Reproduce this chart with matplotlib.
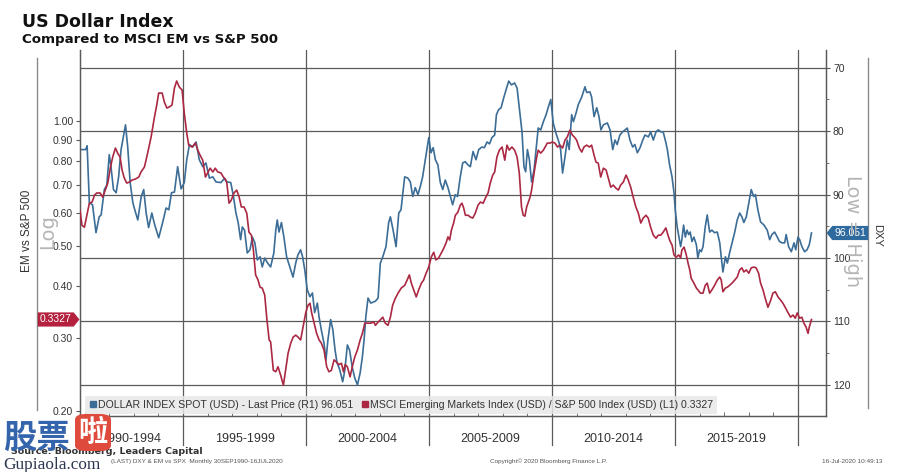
import matplotlib
matplotlib.use("Agg")
import matplotlib.pyplot as plt
from matplotlib.lines import Line2D
from matplotlib.path import Path
from matplotlib.patches import FancyBboxPatch
from matplotlib.transforms import blended_transform_factory
from matplotlib.ticker import FixedLocator, NullLocator, FormatStrFormatter

plt.rcParams['font.family'] = ['Liberation Sans', 'DejaVu Sans']

# DXY, monthly-ish readings (decimal year, index level)
dxy_dates = [1990.81, 1991.04, 1991.10, 1991.19, 1991.32, 1991.46, 1991.59, 1991.67, 1991.80, 1991.90,
             1992.00, 1992.07, 1992.17, 1992.28, 1992.38, 1992.48, 1992.66, 1992.75, 1992.85, 1992.96,
             1993.06, 1993.16, 1993.30, 1993.40, 1993.50, 1993.60, 1993.73, 1993.85, 1994.01, 1994.17,
             1994.31, 1994.42, 1994.53, 1994.65, 1994.78, 1994.92, 1995.05, 1995.15, 1995.26, 1995.39,
             1995.53, 1995.66, 1995.80, 1995.93, 1996.07, 1996.21, 1996.34, 1996.54, 1996.67, 1996.80,
             1996.94, 1997.05, 1997.15, 1997.24, 1997.34, 1997.41, 1997.50, 1997.61, 1997.72, 1997.82,
             1997.92, 1998.02, 1998.13, 1998.22, 1998.32, 1998.44, 1998.56, 1998.69, 1998.77, 1998.83,
             1998.90, 1999.00, 1999.10, 1999.21, 1999.35, 1999.47, 1999.58, 1999.67, 1999.78, 1999.86,
             1999.95, 2000.05, 2000.16, 2000.26, 2000.35, 2000.46, 2000.53, 2000.62, 2000.73, 2000.81,
             2000.89, 2001.00, 2001.09, 2001.18, 2001.26, 2001.37, 2001.49, 2001.58, 2001.68, 2001.77,
             2001.88, 2001.98, 2002.09, 2002.20, 2002.29, 2002.36, 2002.43, 2002.52, 2002.63, 2002.76,
             2002.82, 2002.93, 2003.02, 2003.12, 2003.25, 2003.36, 2003.43, 2003.54, 2003.66, 2003.77,
             2003.86, 2004.01, 2004.14, 2004.24, 2004.34, 2004.44, 2004.55, 2004.64, 2004.74, 2004.85,
             2004.99, 2005.08, 2005.17, 2005.26, 2005.36, 2005.46, 2005.56, 2005.66, 2005.77, 2005.87,
             2005.96, 2006.07, 2006.16, 2006.27, 2006.37, 2006.47, 2006.58, 2006.68, 2006.79, 2006.91,
             2007.02, 2007.15, 2007.25, 2007.36, 2007.46, 2007.56, 2007.67, 2007.74, 2007.83, 2007.93,
             2008.04, 2008.13, 2008.24, 2008.35, 2008.48, 2008.58, 2008.67, 2008.78, 2008.86, 2008.93,
             2009.00, 2009.08, 2009.17, 2009.27, 2009.38, 2009.44, 2009.54, 2009.65, 2009.76, 2009.85,
             2009.95, 2010.05, 2010.16, 2010.28, 2010.35, 2010.43, 2010.53, 2010.62, 2010.70, 2010.80,
             2010.87, 2010.98, 2011.07, 2011.21, 2011.34, 2011.41, 2011.54, 2011.61, 2011.71, 2011.82,
             2011.91, 2011.99, 2012.09, 2012.25, 2012.36, 2012.47, 2012.56, 2012.65, 2012.76, 2012.87,
             2012.97, 2013.06, 2013.17, 2013.28, 2013.37, 2013.47, 2013.58, 2013.69, 2013.78, 2013.92,
             2014.01, 2014.12, 2014.23, 2014.32, 2014.42, 2014.52, 2014.63, 2014.69, 2014.78, 2014.88,
             2014.96, 2015.01, 2015.09, 2015.16, 2015.23, 2015.28, 2015.35, 2015.42, 2015.49, 2015.56,
             2015.62, 2015.69, 2015.77, 2015.87, 2015.93, 2016.00, 2016.07, 2016.14, 2016.23, 2016.31,
             2016.41, 2016.50, 2016.61, 2016.72, 2016.82, 2016.88, 2016.95, 2017.05, 2017.13, 2017.22,
             2017.32, 2017.43, 2017.53, 2017.63, 2017.72, 2017.80, 2017.90, 2018.00, 2018.10, 2018.20,
             2018.27, 2018.37, 2018.48, 2018.62, 2018.75, 2018.85, 2018.94, 2019.05, 2019.16, 2019.25,
             2019.35, 2019.46, 2019.52, 2019.62, 2019.73, 2019.84, 2019.91, 2020.00, 2020.07, 2020.16,
             2020.27, 2020.37, 2020.46, 2020.55]
dxy_vals = [82.9, 82.9, 82.3, 91.3, 91.6, 96.0, 93.5, 93.2, 89.2, 88.5,
            83.7, 85.6, 89.2, 89.7, 87.2, 82.9, 79.0, 82.5, 88.1, 91.3,
            92.7, 94.0, 90.3, 89.2, 92.9, 95.2, 92.9, 94.8, 96.8, 94.4,
            92.1, 92.4, 89.7, 89.6, 85.6, 89.1, 88.1, 84.5, 82.1, 82.5,
            81.7, 84.5, 85.6, 85.0, 87.4, 87.2, 88.0, 88.1, 87.5, 88.0,
            88.1, 90.3, 92.9, 94.4, 97.1, 95.1, 95.6, 99.2, 98.7, 96.7,
            97.6, 100.3, 99.8, 101.4, 100.0, 100.8, 101.4, 99.2, 95.6, 94.0,
            95.9, 94.4, 96.7, 99.8, 101.5, 103.0, 100.8, 99.5, 98.7, 99.8,
            101.9, 105.0, 106.1, 105.5, 108.6, 107.1, 109.3, 111.3, 113.4, 116.1,
            112.9, 109.7, 111.3, 114.5, 116.5, 117.6, 119.5, 117.6, 113.7, 114.5,
            117.2, 118.9, 120.0, 118.1, 115.6, 112.9, 109.3, 106.3, 107.1, 106.9,
            106.8, 106.3, 100.8, 99.8, 98.2, 94.4, 93.5, 95.6, 98.2, 92.9,
            92.4, 87.2, 87.4, 88.0, 90.3, 88.9, 90.0, 88.8, 87.2, 84.5,
            81.0, 83.4, 82.6, 84.5, 85.3, 88.1, 89.2, 87.7, 88.9, 90.3,
            91.6, 90.0, 90.3, 87.2, 85.0, 84.8, 85.3, 85.6, 83.2, 84.5,
            82.9, 82.5, 82.6, 81.7, 82.0, 81.0, 80.6, 77.4, 76.6, 76.3,
            74.7, 73.5, 72.1, 72.7, 72.4, 73.2, 76.3, 80.1, 85.6, 86.4,
            82.9, 84.5, 88.0, 86.1, 81.8, 79.5, 79.8, 78.5, 77.4, 76.2,
            75.0, 78.7, 80.3, 81.7, 82.9, 86.6, 84.0, 81.4, 82.9, 77.4,
            78.5, 77.1, 75.8, 74.6, 73.0, 73.9, 73.8, 74.6, 77.7, 76.3,
            77.7, 79.8, 79.0, 78.7, 79.8, 82.9, 81.4, 82.1, 80.6, 80.1,
            79.8, 79.5, 81.4, 82.5, 82.1, 83.4, 82.6, 81.4, 80.6, 80.9,
            80.1, 81.4, 80.1, 79.8, 80.1, 80.1, 81.8, 82.9, 85.3, 87.2,
            89.7, 92.4, 95.1, 96.7, 98.2, 97.1, 94.8, 96.7, 95.6, 96.3,
            95.9, 97.4, 96.7, 97.9, 100.0, 98.7, 99.0, 98.2, 95.1, 93.2,
            95.9, 95.6, 96.0, 95.9, 97.6, 99.8, 102.2, 99.8, 100.8, 99.2,
            97.6, 95.9, 94.0, 92.9, 93.5, 94.4, 93.5, 91.3, 89.2, 90.3,
            90.0, 92.4, 94.3, 94.8, 95.6, 97.1, 96.3, 95.9, 96.7, 97.4,
            97.6, 97.6, 96.3, 98.2, 99.0, 97.6, 98.7, 96.7, 97.1, 98.2,
            99.0, 98.7, 97.9, 96.051]

# MSCI EM / S&P 500 ratio
em_dates = [1990.81, 1990.89, 1990.99, 1991.08, 1991.19, 1991.30, 1991.40, 1991.49, 1991.63, 1991.73,
            1991.84, 1991.94, 1992.05, 1992.14, 1992.25, 1992.34, 1992.44, 1992.52, 1992.61, 1992.71,
            1992.82, 1992.93, 1993.06, 1993.20, 1993.29, 1993.43, 1993.56, 1993.70, 1993.83, 1993.93,
            1994.01, 1994.15, 1994.24, 1994.34, 1994.44, 1994.55, 1994.65, 1994.74, 1994.85, 1994.96,
            1995.05, 1995.15, 1995.23, 1995.37, 1995.50, 1995.60, 1995.69, 1995.80, 1995.91, 1996.00,
            1996.10, 1996.21, 1996.31, 1996.41, 1996.54, 1996.64, 1996.72, 1996.78, 1996.87, 1996.96,
            1997.07, 1997.18, 1997.28, 1997.37, 1997.48, 1997.59, 1997.68, 1997.78, 1997.86, 1997.95,
            1998.05, 1998.13, 1998.22, 1998.32, 1998.40, 1998.50, 1998.56, 1998.67, 1998.77, 1998.86,
            1998.97, 1999.08, 1999.17, 1999.27, 1999.38, 1999.48, 1999.58, 1999.67, 1999.78, 1999.88,
            1999.99, 2000.08, 2000.16, 2000.23, 2000.33, 2000.43, 2000.53, 2000.62, 2000.73, 2000.84,
            2000.93, 2001.03, 2001.14, 2001.23, 2001.34, 2001.44, 2001.52, 2001.59, 2001.68, 2001.79,
            2001.88, 2001.98, 2002.09, 2002.20, 2002.29, 2002.39, 2002.49, 2002.63, 2002.76, 2002.82,
            2002.93, 2003.02, 2003.12, 2003.22, 2003.33, 2003.43, 2003.52, 2003.63, 2003.74, 2003.87,
            2004.01, 2004.11, 2004.20, 2004.28, 2004.38, 2004.48, 2004.58, 2004.69, 2004.78, 2004.88,
            2004.99, 2005.09, 2005.19, 2005.28, 2005.39, 2005.50, 2005.60, 2005.69, 2005.77, 2005.84,
            2005.91, 2006.00, 2006.07, 2006.17, 2006.27, 2006.34, 2006.41, 2006.48, 2006.59, 2006.68,
            2006.78, 2006.88, 2006.99, 2007.09, 2007.20, 2007.29, 2007.40, 2007.49, 2007.59, 2007.67,
            2007.76, 2007.86, 2007.97, 2008.08, 2008.17, 2008.26, 2008.37, 2008.48, 2008.58, 2008.67,
            2008.76, 2008.83, 2008.90, 2008.97, 2009.04, 2009.11, 2009.17, 2009.24, 2009.31, 2009.38,
            2009.44, 2009.54, 2009.65, 2009.72, 2009.81, 2009.92, 2010.01, 2010.12, 2010.22, 2010.33,
            2010.43, 2010.53, 2010.62, 2010.73, 2010.83, 2010.91, 2011.00, 2011.11, 2011.21, 2011.30,
            2011.41, 2011.52, 2011.61, 2011.71, 2011.79, 2011.88, 2011.98, 2012.09, 2012.20, 2012.29,
            2012.39, 2012.49, 2012.60, 2012.70, 2012.79, 2012.90, 2013.01, 2013.10, 2013.20, 2013.30,
            2013.41, 2013.51, 2013.61, 2013.71, 2013.82, 2013.91, 2014.01, 2014.12, 2014.23, 2014.32,
            2014.42, 2014.52, 2014.63, 2014.72, 2014.79, 2014.88, 2014.96, 2015.05, 2015.15, 2015.23,
            2015.28, 2015.37, 2015.46, 2015.53, 2015.60, 2015.66, 2015.77, 2015.87, 2015.93, 2016.04,
            2016.14, 2016.23, 2016.31, 2016.41, 2016.50, 2016.61, 2016.72, 2016.82, 2016.88, 2016.95,
            2017.05, 2017.13, 2017.22, 2017.32, 2017.43, 2017.53, 2017.63, 2017.72, 2017.80, 2017.90,
            2018.00, 2018.10, 2018.21, 2018.30, 2018.40, 2018.48, 2018.58, 2018.67, 2018.78, 2018.89,
            2018.98, 2019.08, 2019.19, 2019.30, 2019.39, 2019.48, 2019.59, 2019.70, 2019.80, 2019.89,
            2019.97, 2020.07, 2020.16, 2020.24, 2020.33, 2020.41, 2020.46, 2020.55]
em_vals = [0.610, 0.561, 0.555, 0.590, 0.634, 0.638, 0.663, 0.671, 0.671, 0.656,
           0.682, 0.709, 0.775, 0.819, 0.861, 0.837, 0.819, 0.762, 0.729, 0.709,
           0.713, 0.721, 0.725, 0.733, 0.754, 0.775, 0.837, 0.915, 1.017, 1.093,
           1.168, 1.168, 1.111, 1.075, 1.081, 1.093, 1.201, 1.249, 1.207, 1.188,
           1.045, 0.935, 0.875, 0.866, 0.885, 0.851, 0.828, 0.805, 0.733, 0.750,
           0.770, 0.754, 0.770, 0.754, 0.750, 0.733, 0.725, 0.709, 0.634, 0.645,
           0.671, 0.682, 0.656, 0.621, 0.621, 0.600, 0.540, 0.531, 0.489, 0.426,
           0.414, 0.398, 0.396, 0.381, 0.337, 0.297, 0.294, 0.251, 0.249, 0.256,
           0.244, 0.231, 0.251, 0.276, 0.292, 0.302, 0.305, 0.302, 0.297, 0.319,
           0.346, 0.360, 0.364, 0.345, 0.326, 0.308, 0.297, 0.292, 0.281, 0.256,
           0.249, 0.251, 0.266, 0.263, 0.259, 0.261, 0.249, 0.259, 0.256, 0.242,
           0.256, 0.270, 0.281, 0.297, 0.308, 0.326, 0.326, 0.326, 0.328, 0.322,
           0.328, 0.332, 0.337, 0.326, 0.322, 0.337, 0.360, 0.374, 0.385, 0.396,
           0.402, 0.414, 0.426, 0.407, 0.392, 0.377, 0.392, 0.407, 0.414, 0.430,
           0.445, 0.470, 0.483, 0.463, 0.468, 0.481, 0.494, 0.508, 0.526, 0.517,
           0.546, 0.568, 0.593, 0.603, 0.627, 0.634, 0.617, 0.593, 0.593, 0.587,
           0.584, 0.600, 0.627, 0.638, 0.634, 0.652, 0.671, 0.709, 0.741, 0.754,
           0.819, 0.851, 0.866, 0.805, 0.875, 0.851, 0.866, 0.851, 0.819, 0.750,
           0.621, 0.593, 0.590, 0.621, 0.638, 0.656, 0.682, 0.729, 0.775, 0.819,
           0.851, 0.837, 0.851, 0.866, 0.885, 0.885, 0.890, 0.885, 0.866, 0.875,
           0.861, 0.900, 0.915, 0.951, 0.925, 0.915, 0.900, 0.861, 0.842, 0.866,
           0.875, 0.866, 0.875, 0.828, 0.796, 0.792, 0.733, 0.770, 0.762, 0.729,
           0.693, 0.701, 0.689, 0.682, 0.701, 0.713, 0.741, 0.721, 0.693, 0.656,
           0.621, 0.600, 0.568, 0.584, 0.593, 0.584, 0.555, 0.531, 0.522, 0.531,
           0.531, 0.540, 0.553, 0.530, 0.515, 0.503, 0.476, 0.470, 0.476, 0.468,
           0.489, 0.497, 0.476, 0.455, 0.438, 0.418, 0.407, 0.396, 0.392, 0.385,
           0.385, 0.402, 0.407, 0.385, 0.392, 0.402, 0.414, 0.421, 0.414, 0.388,
           0.396, 0.398, 0.402, 0.407, 0.414, 0.421, 0.438, 0.443, 0.433, 0.438,
           0.430, 0.443, 0.445, 0.443, 0.430, 0.407, 0.392, 0.374, 0.356, 0.370,
           0.385, 0.388, 0.377, 0.370, 0.364, 0.356, 0.346, 0.337, 0.341, 0.335,
           0.345, 0.335, 0.337, 0.326, 0.319, 0.308, 0.319, 0.3327]

period_bounds = [1995, 2000, 2005, 2010, 2015, 2020]
period_labels = ['1990-1994', '1995-1999', '2000-2004', '2005-2009', '2010-2014', '2015-2019']
dxy_ticks = [70, 80, 90, 100, 110, 120]
em_ticks = [0.2, 0.3, 0.4, 0.5, 0.6, 0.7, 0.8, 0.9, 1.0]

BLUE = '#3b6d97'
RED = '#ab2842'
GRID = '#5a5a5a'
TXT = '#333333'
W, H = 903, 472


def fx(px):
    return px / W


def fy(py):
    return 1 - py / H


def tag_style(point):
    # little price tag with a pointed end, like the bloomberg last-value markers
    def style(x0, y0, width, height, mutation_size):
        pad = 0.2 * mutation_size
        x0, y0 = x0 - pad, y0 - pad
        x1, y1 = x0 + width + 2 * pad, y0 + height + 2 * pad
        ym = (y0 + y1) / 2
        tip = (y1 - y0) * 0.4
        if point == 'left':
            verts = [(x0 - tip, ym), (x0, y0), (x1, y0), (x1, y1), (x0, y1), (x0 - tip, ym)]
        else:
            verts = [(x0, y0), (x1, y0), (x1 + tip, ym), (x1, y1), (x0, y1), (x0, y0)]
        return Path(verts, closed=True)
    return style


fig = plt.figure(figsize=(W / 100, H / 100), dpi=100)
ax = fig.add_axes([fx(80), fy(416), fx(746), 366 / H])   # DXY, right side, inverted
ax_em = ax.twinx()                                        # EM/SPX, left side, log

ax.plot(dxy_dates, dxy_vals, color=BLUE, lw=1.2, zorder=3)
ax_em.plot(em_dates, em_vals, color=RED, lw=1.2, zorder=3)

ax.set_xlim(1990.81, 2021.14)
ax.set_ylim(124.9, 67.2)
ax_em.set_yscale('log')
ax_em.set_ylim(0.1948, 1.483)

# right axis
ax.yaxis.tick_right()
ax.yaxis.set_major_locator(FixedLocator(dxy_ticks))
ax.yaxis.set_minor_locator(FixedLocator([75, 85, 95, 105, 115]))
ax.tick_params(axis='y', which='both', direction='out', colors=GRID, labelcolor=TXT,
               labelsize=7.5, pad=2)
ax.tick_params(axis='y', which='major', length=3)
ax.tick_params(axis='y', which='minor', length=2)
ax.set_xticks(period_bounds)
ax.set_xticks(list(range(1991, 2021)), minor=True)
ax.tick_params(axis='x', which='major', length=0, labelbottom=False)
ax.tick_params(axis='x', which='minor', direction='in', length=3, color=GRID)
ax.grid(True, which='major', color=GRID, lw=0.9)
ax.set_axisbelow(True)

# left axis
ax_em.yaxis.tick_left()
ax_em.yaxis.set_label_position('left')
ax_em.yaxis.set_major_locator(FixedLocator(em_ticks))
ax_em.yaxis.set_minor_locator(NullLocator())
ax_em.yaxis.set_major_formatter(FormatStrFormatter('%.2f'))
ax_em.tick_params(axis='y', direction='out', length=3, colors=GRID, labelcolor=TXT,
                  labelsize=7.5, pad=2)

for a in (ax, ax_em):
    a.spines['top'].set_visible(False)
    for s in ('left', 'right', 'bottom'):
        a.spines[s].set_color(GRID)
        a.spines[s].set_linewidth(0.9)

# period separators below the axis and period names
trans = blended_transform_factory(ax.transData, ax.transAxes)
for b in period_bounds:
    ax.plot([b, b], [0, -29 / 366], color=GRID, lw=0.9, transform=trans, clip_on=False)
lefts = [ax.get_xlim()[0]] + period_bounds[:-1]
for lo, hi, lab in zip(lefts, period_bounds, period_labels):
    ax.text((lo + hi) / 2, -23 / 366, lab, transform=trans, ha='center', va='center',
            fontsize=9, color=TXT)

# legend
handles = [Line2D([], [], marker='s', ls='none', color=BLUE, ms=4.5),
           Line2D([], [], marker='s', ls='none', color=RED, ms=4.5)]
labels = ['DOLLAR INDEX SPOT (USD) - Last Price (R1) %.3f' % dxy_vals[-1],
          'MSCI Emerging Markets Index (USD) / S&P 500 Index (USD) (L1) %.4f' % em_vals[-1]]
leg = ax_em.legend(handles, labels, loc='lower left', bbox_to_anchor=(5 / 746, 2 / 366),
                   ncol=2, fontsize=7.6, frameon=True, fancybox=False, borderaxespad=0,
                   borderpad=0.4, handletextpad=0.05, columnspacing=0.7, handlelength=0.8,
                   labelcolor=TXT)
leg.get_frame().set_facecolor('#e8e8e8')
leg.get_frame().set_edgecolor('none')
leg.get_frame().set_alpha(0.85)

# last value tags
t_right = blended_transform_factory(ax.transAxes, ax.transData)
ax.annotate('%.3f' % dxy_vals[-1], xy=(1, dxy_vals[-1]), xycoords=t_right,
            xytext=(6, 0), textcoords='offset points', ha='left', va='center',
            fontsize=7.5, color='white', zorder=10, annotation_clip=False,
            bbox=dict(boxstyle=tag_style('left'), fc='#2f6a9e', ec='none'))
t_left = blended_transform_factory(ax_em.transAxes, ax_em.transData)
ax_em.annotate('%.4f' % em_vals[-1], xy=(0, em_vals[-1]), xycoords=t_left,
               xytext=(-6, 0), textcoords='offset points', ha='right', va='center',
               fontsize=7.5, color='white', zorder=10, annotation_clip=False,
               bbox=dict(boxstyle=tag_style('right'), fc='#b3213e', ec='none'))

# axis titles and side notes
fig.text(fx(48), fy(232), 'Log', rotation=90, ha='center', va='center', fontsize=14,
         color='#b5b5b5', family='DejaVu Sans', zorder=0)
fig.text(fx(853), fy(231), 'Low = High', rotation=270, ha='center', va='center', fontsize=14,
         color='#b5b5b5', family='DejaVu Sans', zorder=0)
fig.text(fx(27), fy(231), 'EM vs S&P 500', rotation=90, ha='center', va='center',
         fontsize=8.5, color=TXT)
fig.text(fx(877), fy(235), 'DXY', rotation=270, ha='center', va='center',
         fontsize=8, color=TXT)
fig.add_artist(Line2D([fx(37), fx(37)], [fy(58), fy(410)], color='#8a8a8a', lw=1, zorder=-1))
fig.add_artist(Line2D([fx(868), fx(868)], [fy(58), fy(408)], color='#8a8a8a', lw=1, zorder=-1))

# titles
fig.text(fx(22), fy(27), 'US Dollar Index', fontsize=12.5, weight='bold', color='#111111',
         family='DejaVu Sans', va='baseline')
fig.text(fx(22), fy(43), 'Compared to MSCI EM vs S&P 500', fontsize=9.6, weight='bold',
         color='#111111', family='DejaVu Sans', va='baseline')

# footer
fig.text(fx(203), fy(454), 'Source: Bloomberg, Leaders Capital', ha='right', va='baseline',
         fontsize=6.8, weight='bold', color=TXT, family='DejaVu Sans')
fig.text(fx(283), fy(463), '(LAST) DXY & EM vs SPX  Monthly 30SEP1990-16JUL2020', ha='right',
         va='baseline', fontsize=4.6, color='#555555')
fig.text(fx(548), fy(463), 'Copyright\u00a9 2020 Bloomberg Finance L.P.', ha='center',
         va='baseline', fontsize=4.6, color='#555555')
fig.text(fx(883), fy(463), '16-Jul-2020 10:49:13', ha='right', va='baseline',
         fontsize=4.6, color='#555555')

# site watermark
cjk = ['Noto Sans CJK SC', 'DejaVu Sans']
fig.text(fx(3), fy(448), '股票', fontsize=24, weight='bold', color='#3464ab', family=cjk,
         va='baseline', zorder=20)
fig.patches.append(FancyBboxPatch((fx(75), fy(451)), fx(36), 37 / H,
                                  boxstyle='round,pad=0,rounding_size=0.012',
                                  fc='#de4a3c', ec='none', transform=fig.transFigure,
                                  figure=fig, zorder=20))
fig.text(fx(93), fy(432), '啦', fontsize=21, weight='bold', color='white', family=cjk,
         ha='center', va='center', zorder=21)
fig.text(fx(3), fy(469), 'Gupiaola.com', fontsize=12.4, color='#2c3550',
         family='Liberation Serif', va='baseline', zorder=20)

fig.savefig('out.png', dpi=100, facecolor='white')
